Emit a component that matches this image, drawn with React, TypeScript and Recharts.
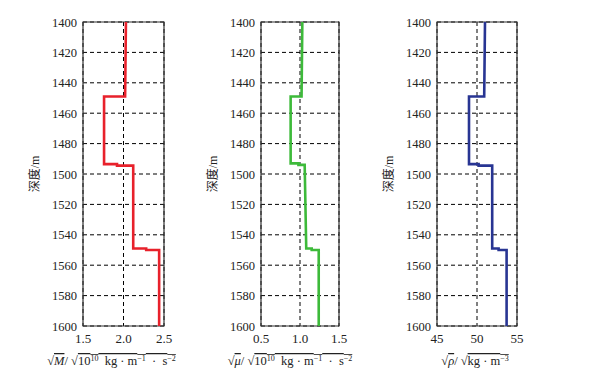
import { CartesianGrid, Line, LineChart, ReferenceArea, XAxis, YAxis } from 'recharts'

// depth samples (m) and the stepped curves for each panel
const depthsM = [1400, 1449, 1449, 1493.5, 1493.5, 1494.5, 1494.5, 1549, 1549, 1550, 1550, 1600]
const valuesM = [2.03, 2.02, 1.76, 1.76, 1.92, 1.92, 2.12, 2.12, 2.28, 2.28, 2.44, 2.44]

const depthsMu = [1400, 1449, 1449, 1493, 1493, 1494, 1494, 1549, 1549, 1550, 1550, 1600]
const valuesMu = [1.03, 1.02, 0.88, 0.88, 0.98, 0.98, 1.06, 1.08, 1.15, 1.15, 1.24, 1.24]

const depthsRho = [1400, 1449, 1449, 1493.5, 1493.5, 1494.5, 1494.5, 1549, 1549, 1550, 1550, 1600]
const valuesRho = [51.0, 50.9, 49.0, 49.0, 50.2, 50.2, 51.9, 51.9, 52.7, 52.7, 53.7, 53.7]

const depthTicks = [1400, 1420, 1440, 1460, 1480, 1500, 1520, 1540, 1560, 1580, 1600]
const ticksM = [1.5, 2.0, 2.5]
const ticksMu = [0.5, 1.0, 1.5]
const ticksRho = [45, 50, 55]

// unit pieces: [text, superscript]
const unitModulus: [string, string][] = [['10', '10'], ['  kg · m', '−1'], ['  ·  s', '−2']]
const unitDensity: [string, string][] = [['kg · m', '−3']]

const serif = "'Liberation Serif', 'Noto Sans CJK SC', serif"
const ink = '#222'

interface Box { x: number; y: number; width: number; height: number }
interface TickProps { x?: number; y?: number; payload?: { value: number } }

function AxisTitle({ viewBox, symbol, unit, dx }: { viewBox?: Box; symbol: string; unit: [string, string][]; dx: number }) {
  if (!viewBox) return null
  const cx = viewBox.x + viewBox.width / 2 + dx
  return (
    <text x={cx} y={viewBox.y + 39} textAnchor="middle" fontSize={12.5} fill={ink} fontFamily={serif} style={{ whiteSpace: 'pre' }}>
      <tspan>√</tspan>
      <tspan fontStyle="italic" style={{ textDecoration: 'overline' }}>{symbol}</tspan>
      <tspan>/ √</tspan>
      <tspan style={{ textDecoration: 'overline' }}>
        {unit.map(([text, sup], i) => (
          <tspan key={i}>
            <tspan>{text}</tspan>
            <tspan fontSize={8} baselineShift="super">{sup}</tspan>
          </tspan>
        ))}
      </tspan>
    </text>
  )
}

function DepthTitle({ viewBox }: { viewBox?: Box }) {
  if (!viewBox) return null
  const x = viewBox.x + viewBox.width - 48
  const y = 174
  return (
    <text x={x} y={y} transform={`rotate(-90 ${x} ${y})`} textAnchor="middle" dominantBaseline="central" fontSize={12} fill={ink} fontFamily={serif}>
      深度/m
    </text>
  )
}

function BottomTick({ x = 0, y = 0, payload, digits }: TickProps & { digits: number }) {
  return (
    <text x={x} y={y} dy="0.71em" textAnchor="middle" fontSize={13} fill={ink} fontFamily="Liberation Serif">
      {payload ? payload.value.toFixed(digits) : ''}
    </text>
  )
}

function LeftTick({ x = 0, y = 0, payload }: TickProps) {
  return (
    <text x={x} y={y} dy="0.36em" textAnchor="end" fontSize={12.5} fill={ink} fontFamily="Liberation Serif">
      {payload ? payload.value : ''}
    </text>
  )
}

interface PanelProps {
  left: number
  plotWidth: number
  depths: number[]
  values: number[]
  ticks: number[]
  digits: number
  color: string
  symbol: string
  unit: [string, string][]
  titleDx: number
}

function Panel({ left, plotWidth, depths, values, ticks, digits, color, symbol, unit, titleDx }: PanelProps) {
  const rows = depths.map((depth, i) => ({ depth, value: values[i] }))
  const domain: [number, number] = [ticks[0], ticks[ticks.length - 1]]
  const axisW = 60
  return (
    <div style={{ position: 'absolute', left, top: 0 }}>
      <LineChart layout="vertical" width={axisW + plotWidth + 40} height={385} data={rows} margin={{ top: 22, right: 40, bottom: 39, left: 0 }}>
        <CartesianGrid stroke="#000" strokeDasharray="4 3" strokeWidth={1} />
        <XAxis type="number" dataKey="value" domain={domain} ticks={ticks} height={20} axisLine={false} tickLine={false} tickSize={6} tickMargin={2}
          tick={<BottomTick digits={digits} />} label={<AxisTitle symbol={symbol} unit={unit} dx={titleDx} />} />
        <YAxis type="number" dataKey="depth" domain={[1400, 1600]} ticks={depthTicks} width={axisW} axisLine={false} tickLine={false} tickSize={4} tickMargin={2}
          tick={<LeftTick />} label={<DepthTitle />} />
        <Line type="linear" dataKey="value" stroke={color} strokeWidth={2.6} dot={false} activeDot={false} isAnimationActive={false} />
        <ReferenceArea x1={domain[0]} x2={domain[1]} y1={1400} y2={1600} fill="none" stroke="#333" strokeWidth={1.2} ifOverflow="visible" />
      </LineChart>
    </div>
  )
}

export default function App() {
  return (
    <div style={{ position: 'relative', width: 612, height: 385, background: '#fff', overflow: 'hidden' }}>
      <style>{'body{margin:0}'}</style>
      <Panel left={23} plotWidth={81} depths={depthsM} values={valuesM} ticks={ticksM} digits={1} color="#e8212b"
        symbol="M" unit={unitModulus} titleDx={-12} />
      <Panel left={201} plotWidth={78} depths={depthsMu} values={valuesMu} ticks={ticksMu} digits={1} color="#3dba3a"
        symbol="μ" unit={unitModulus} titleDx={-10} />
      <Panel left={377} plotWidth={80} depths={depthsRho} values={valuesRho} ticks={ticksRho} digits={0} color="#283593"
        symbol="ρ" unit={unitDensity} titleDx={-2} />
    </div>
  )
}
